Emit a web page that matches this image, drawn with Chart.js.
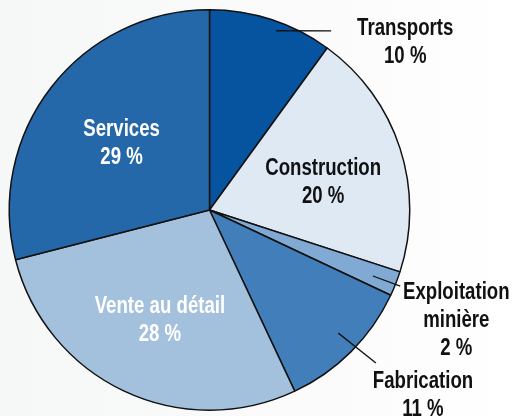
<!DOCTYPE html>
<html>
<head>
<meta charset="utf-8">
<script src="https://cdn.jsdelivr.net/npm/chart.js@4"></script>
<style>
  html, body { margin: 0; padding: 0; }
  body { width: 514px; height: 416px; overflow: hidden; background: linear-gradient(90deg, #f6f7f7 0%, #fbfbfb 60%, #ffffff 100%); }
  #myChart { display: block; }
</style>
</head>
<body>
<canvas id="myChart" width="514" height="416"></canvas>
<script>
// Répartition par secteur (en %)
var secteurs = ['Transports', 'Construction', 'Exploitation minière', 'Fabrication', 'Vente au détail', 'Services'];
var pourcentages = [10, 20, 2, 11, 28, 29];
var etiquettes = [['Transports', '10 %'], ['Construction', '20 %'], ['Exploitation', 'minière', '2 %'], ['Fabrication', '11 %'], ['Vente au détail', '28 %'], ['Services', '29 %']];
var couleurs = ['#0654a0', '#dfe9f4', '#80a9d3', '#427fba', '#a3c0dd', '#2568a9'];

// Placement des étiquettes (en fractions du rayon, par rapport au centre)
var placement = [
    { text: [0.9775, -0.8365], color: '#111', line: { da: 2.4, r: 0.955, end: [0.6075, -0.895] } },
    { text: [0.5675, -0.135], color: '#111' },
    { text: [1.2325, 0.555], color: '#111', line: { da: 0.4, r: 0.88, end: [0.9525, 0.38] } },
    { text: [1.066, 0.925], color: '#111', line: { da: -1.3, r: 0.89, end: [0.831, 0.7635] } },
    { text: [-0.2475, 0.555], color: '#fff' },
    { text: [-0.439, -0.33], color: '#fff' }
];

// police condensée simulée : on écrase horizontalement
var ECRASEMENT = 0.81;

var etiquettesPlugin = {
    id: 'etiquettes',
    afterDatasetsDraw: function(chart) {
        var ctx = chart.ctx;
        var meta = chart.getDatasetMeta(0);
        meta.data.forEach(function(arc, i) {
            var p = placement[i];
            var cx = arc.x, cy = arc.y, R = arc.outerRadius;
            ctx.save();
            if (p.line) {
                var mid = (arc.startAngle + arc.endAngle) / 2 + p.line.da * Math.PI / 180;
                ctx.beginPath();
                ctx.moveTo(cx + Math.cos(mid) * R * p.line.r, cy + Math.sin(mid) * R * p.line.r);
                ctx.lineTo(cx + p.line.end[0] * R, cy + p.line.end[1] * R);
                ctx.strokeStyle = '#111';
                ctx.lineWidth = 1.3;
                ctx.stroke();
            }
            var lignes = etiquettes[i];
            var tx = cx + p.text[0] * R;
            var ty = cy + p.text[1] * R - (lignes.length - 1) * 28 / 2;
            ctx.font = 'bold 23px "Liberation Sans", Arial, sans-serif';
            ctx.textAlign = 'center';
            ctx.textBaseline = 'middle';
            ctx.fillStyle = p.color;
            ctx.translate(tx, 0);
            ctx.scale(ECRASEMENT, 1);
            lignes.forEach(function(l, k) {
                ctx.fillText(l, 0, ty + k * 28);
            });
            ctx.restore();
        });
    }
};

var ctx = document.getElementById('myChart').getContext('2d');
var myChart = new Chart(ctx, {
    type: 'pie',
    data: {
        labels: secteurs,
        datasets: [{
            data: pourcentages,
            backgroundColor: couleurs,
            borderColor: '#111',
            borderWidth: 1.5,
            borderAlign: 'center'
        }]
    },
    options: {
        responsive: false,
        animation: false,
        layout: { padding: { left: 8.5, top: 9, right: 103.5, bottom: 5 } },
        plugins: {
            legend: { display: false },
            tooltip: { enabled: false }
        }
    },
    plugins: [etiquettesPlugin]
});
</script>
</body>
</html>
